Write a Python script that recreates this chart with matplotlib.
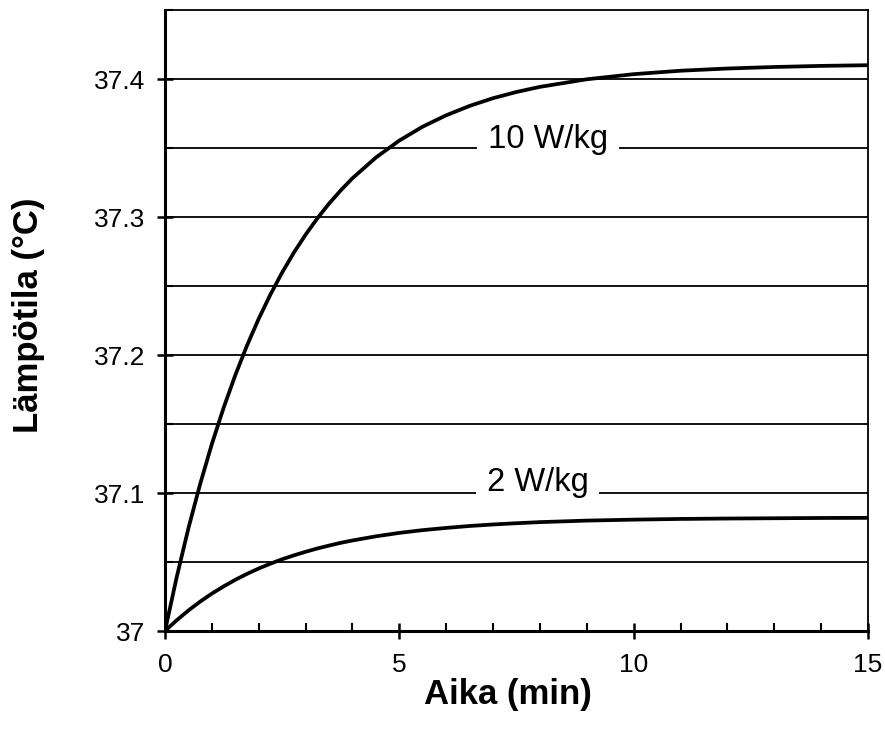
import matplotlib
matplotlib.use("Agg")
import matplotlib.pyplot as plt
from matplotlib.ticker import MultipleLocator, FuncFormatter

plt.rcParams['font.family'] = ['Liberation Sans', 'DejaVu Sans']

# Data
time_min = [0, 0.25, 0.5, 0.75, 1, 1.25, 1.5, 1.75, 2, 2.25, 2.5, 2.75, 3, 3.25, 3.5, 3.75, 4,
            4.5, 5, 5.5, 6, 6.5, 7, 7.5, 8, 9, 10, 11, 12, 13, 14, 15]
temp_10wkg = [37.0, 37.0391, 37.0745, 37.1065, 37.1355, 37.1617, 37.1854, 37.2069, 37.2263,
              37.2439, 37.2598, 37.2742, 37.2872, 37.2990, 37.3097, 37.3193, 37.3281,
              37.3431, 37.3554, 37.3655, 37.3737, 37.3805, 37.3861, 37.3906, 37.3943,
              37.3998, 37.4035, 37.4060, 37.4076, 37.4087, 37.4095, 37.4100]
temp_2wkg = [37.0, 37.0078, 37.0149, 37.0213, 37.0271, 37.0323, 37.0371, 37.0414, 37.0453,
             37.0488, 37.0520, 37.0548, 37.0574, 37.0598, 37.0619, 37.0639, 37.0656,
             37.0686, 37.0711, 37.0731, 37.0747, 37.0761, 37.0772, 37.0781, 37.0789,
             37.0800, 37.0807, 37.0812, 37.0815, 37.0817, 37.0819, 37.0820]
series_labels = [" 10 W/kg ", " 2 W/kg "]
label_pos = [(8.17, 37.35), (7.95, 37.1015)]
xlabel = "Aika (min)"
ylabel = "Lämpötila (°C)"

fig = plt.figure(figsize=(8.85, 7.29), dpi=100)
W, H = 885, 729
left, right, top, bottom = 165, 868, 10, 631
ax = fig.add_axes([left / W, 1 - bottom / H, (right - left) / W, (bottom - top) / H])

ax.set_xlim(0, 15)
ax.set_ylim(37.0, 37.45)

# horizontal gridlines every 0.05
for g in [37.05, 37.10, 37.15, 37.20, 37.25, 37.30, 37.35, 37.40]:
    ax.axhline(g, color='black', lw=1.3, zorder=1)

ax.plot(time_min, temp_10wkg, color='black', lw=2.7, zorder=3, solid_capstyle='butt')
ax.plot(time_min, temp_2wkg, color='black', lw=2.7, zorder=3, solid_capstyle='butt')

for lab, (lx, ly) in zip(series_labels, label_pos):
    ax.text(lx, ly, lab, ha='center', va='baseline', fontsize=23.5, zorder=2,
            bbox=dict(facecolor='white', edgecolor='none', boxstyle='square,pad=0.05'))

ax.xaxis.set_major_locator(MultipleLocator(5))
ax.xaxis.set_minor_locator(MultipleLocator(1))
ax.yaxis.set_major_locator(MultipleLocator(0.1))
ax.yaxis.set_minor_locator(MultipleLocator(0.05))
ax.yaxis.set_major_formatter(FuncFormatter(
    lambda v, p: (f"{v:.0f}" if abs(v - round(v)) < 1e-9 else f"{v:.1f}")))

ax.tick_params(axis='both', which='major', direction='inout', length=12, width=1.8, labelsize=19)
ax.tick_params(axis='x', which='major', pad=10)
ax.tick_params(axis='y', which='major', pad=8)
ax.tick_params(axis='x', which='minor', direction='in', length=6, width=1.5)
ax.tick_params(axis='y', which='minor', direction='in', length=6, width=1.5)

for s in ['left', 'bottom']:
    ax.spines[s].set_linewidth(2.2)
for s in ['top', 'right']:
    ax.spines[s].set_linewidth(1.3)

ax.set_xlabel(xlabel, fontsize=25, fontweight='bold')
ax.set_ylabel(ylabel, fontsize=25, fontweight='bold')
ax.xaxis.set_label_coords((508 - left) / (right - left), (bottom - 678) / (bottom - top))
ax.yaxis.set_label_coords((45 - left) / (right - left), (bottom - 315) / (bottom - top))

fig.savefig("out.png", dpi=100)
